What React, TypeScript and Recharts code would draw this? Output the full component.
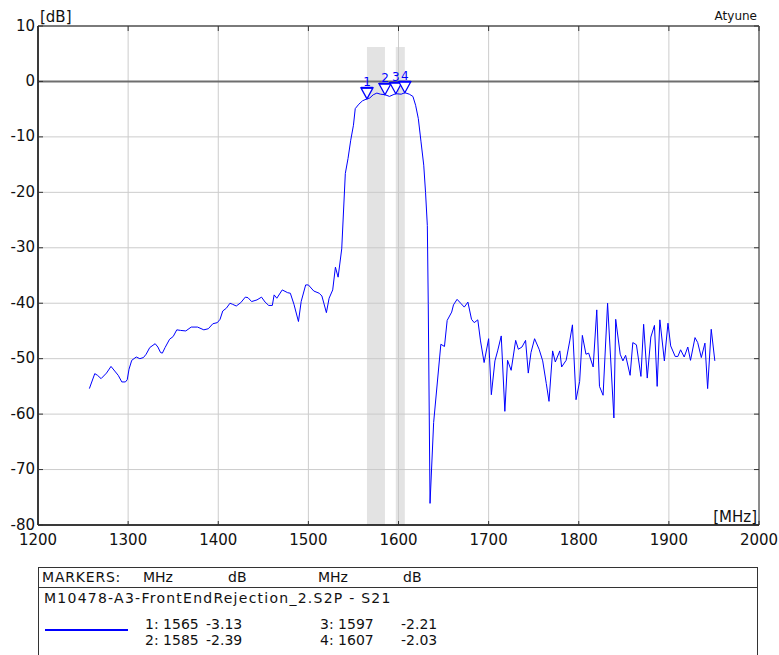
import React from 'react';
import {
  ComposedChart,
  Line,
  Scatter,
  XAxis,
  YAxis,
  CartesianGrid,
  ReferenceArea,
  ReferenceLine,
} from 'recharts';

const freqMHz = [
  1257, 1263, 1266, 1270, 1276, 1281, 1286, 1289, 1293, 1297, 1299, 1301, 1304, 1309, 1313, 1317,
  1320, 1324, 1330, 1333, 1336, 1338, 1341, 1346, 1350, 1354, 1358, 1364, 1370, 1377, 1384, 1389,
  1394, 1399, 1402, 1405, 1409, 1413, 1416, 1420, 1425, 1430, 1433, 1437, 1443, 1448, 1452, 1456,
  1460, 1462, 1465, 1471, 1477, 1480, 1484, 1489, 1492, 1497, 1500, 1506, 1512, 1515, 1520, 1523,
  1527, 1530, 1533, 1537, 1541, 1544, 1547, 1550, 1552, 1556, 1560, 1565, 1568, 1572, 1576, 1580,
  1585, 1590, 1594, 1597, 1603, 1607, 1612, 1616, 1619, 1622, 1625, 1628, 1630, 1632, 1633, 1635,
  1639, 1647, 1651, 1654, 1659, 1661, 1665, 1669, 1673, 1677, 1681, 1684, 1688, 1691, 1695, 1700,
  1703, 1707, 1710, 1714, 1718, 1721, 1725, 1730, 1733, 1737, 1741, 1744, 1747, 1751, 1756, 1760,
  1764, 1767, 1771, 1774, 1779, 1781, 1786, 1790, 1793, 1797, 1801, 1804, 1808, 1811, 1816, 1820,
  1823, 1827, 1832, 1839, 1841, 1846, 1849, 1852, 1857, 1860, 1864, 1869, 1872, 1876, 1880, 1884,
  1887, 1890, 1895, 1899, 1902, 1907, 1910, 1913, 1917, 1921, 1924, 1929, 1932, 1936, 1940, 1943,
  1947, 1951,
];

const s21dB = [
  -55.4, -52.7, -53.0, -53.6, -52.6, -51.4, -52.4, -53.0, -54.2, -54.2, -53.8, -51.9, -50.3, -49.7, -50.0, -49.8,
  -49.2, -48.0, -47.3, -47.9, -48.9, -49.0, -48.0, -46.5, -46.0, -44.8, -44.9, -45.0, -44.3, -44.3, -44.8, -44.6,
  -43.7, -43.5, -42.9, -41.4, -40.9, -40.0, -40.2, -40.5, -39.9, -38.9, -39.0, -39.7, -39.4, -38.9, -39.8, -40.4,
  -40.4, -38.5, -39.1, -37.6, -38.1, -38.2, -40.2, -43.3, -39.7, -36.7, -36.7, -37.8, -38.2, -38.7, -41.7, -39.1,
  -37.6, -33.5, -35.3, -30.2, -16.6, -13.9, -10.6, -7.9, -4.9, -4.1, -3.5, -3.13, -3.0, -2.4, -2.1, -2.3,
  -2.39, -2.7, -2.4, -2.21, -2.3, -2.03, -2.3, -2.7, -4.3, -6.7, -10.9, -15.1, -20.0, -26.0, -40.0, -76.1,
  -61.5, -47.4, -47.8, -43.1, -41.6, -40.3, -39.3, -40.0, -40.7, -39.8, -42.9, -43.5, -43.0, -46.8, -50.7, -46.4,
  -56.5, -50.4, -48.6, -45.9, -59.5, -50.3, -52.1, -46.7, -48.3, -47.9, -46.7, -52.6, -48.9, -46.4, -48.3, -50.4,
  -54.5, -57.7, -48.6, -50.6, -48.6, -51.5, -50.3, -46.8, -43.9, -57.4, -54.1, -45.8, -49.2, -49.0, -51.5, -41.2,
  -55.0, -56.6, -40.0, -60.7, -42.9, -49.2, -50.4, -49.4, -53.0, -47.1, -47.5, -53.2, -43.8, -53.5, -46.1, -44.0,
  -55.0, -43.0, -50.4, -43.6, -47.7, -49.6, -49.6, -48.4, -49.7, -47.9, -50.3, -46.2, -47.1, -49.8, -47.2, -55.4,
  -44.7, -50.4,
];

const markerLabels = ['1', '2', '3', '4'];
const markerFreq = [1565, 1585, 1597, 1607];
const markerDb = [-3.13, -2.39, -2.21, -2.03];

const bandStart = [1565, 1597];
const bandEnd = [1585, 1607];
const bandTop = 6.2;

const xTicks = [1200, 1300, 1400, 1500, 1600, 1700, 1800, 1900, 2000];
const yTicks = [10, 0, -10, -20, -30, -40, -50, -60, -70, -80];

const traceName = 'M10478-A3-FrontEndRejection_2.S2P - S21';

const traceData = freqMHz.map((f, i) => ({ f, db: s21dB[i] }));
const markerData = markerFreq.map((f, i) => ({ f, db: markerDb[i], label: markerLabels[i] }));

const W = 779;
const H = 560;
const PLOT_LEFT = 38;
const PLOT_RIGHT = 759;
const PLOT_TOP = 26;
const PLOT_BOTTOM = 525;
const FONT = '"DejaVu Sans", Verdana, sans-serif';
const BLUE = '#0000ff';

const XTick = (props: any) => {
  const { x, payload } = props;
  return (
    <g>
      <line x1={x} x2={x} y1={PLOT_TOP} y2={PLOT_TOP + 5} stroke="#333" strokeWidth={1} />
      <line x1={x} x2={x} y1={PLOT_BOTTOM} y2={PLOT_BOTTOM - 4} stroke="#333" strokeWidth={1} />
      <text x={x} y={PLOT_BOTTOM + 20} textAnchor="middle" fontFamily={FONT} fontSize={15} fill="#111">
        {payload.value}
      </text>
    </g>
  );
};

const YTick = (props: any) => {
  const { y, payload } = props;
  return (
    <g>
      <line x1={PLOT_LEFT} x2={PLOT_LEFT + 5} y1={y} y2={y} stroke="#333" strokeWidth={1} />
      <line x1={PLOT_RIGHT} x2={PLOT_RIGHT - 5} y1={y} y2={y} stroke="#333" strokeWidth={1} />
      <text x={PLOT_LEFT - 3} y={y + 4.5} textAnchor="end" fontFamily={FONT} fontSize={15} fill="#111">
        {payload.value}
      </text>
    </g>
  );
};

const MarkerShape = (props: any) => {
  const { cx, cy, payload } = props;
  if (cx == null || cy == null) return null;
  const hw = 6;
  const h = 11;
  return (
    <g>
      <polygon
        points={`${cx - hw},${cy - h} ${cx + hw},${cy - h} ${cx},${cy}`}
        fill="#ffffff"
        stroke={BLUE}
        strokeWidth={1.3}
      />
      <line x1={cx - hw} x2={cx + hw} y1={cy - h} y2={cy - h} stroke={BLUE} strokeWidth={2} />
      <text x={cx} y={cy - h - 1.5} textAnchor="middle" fontFamily={FONT} fontSize={12} fill={BLUE}>
        {payload.label}
      </text>
    </g>
  );
};

const Legend = () => {
  const colA = 145;
  const colAv = 206;
  const colB = 320;
  const colBv = 401;
  const row1 = 629;
  const row2 = 645;
  const txt = { fontFamily: FONT, fontSize: 14, fill: '#111' } as const;
  return (
    <svg
      width={W}
      height={655}
      style={{ position: 'absolute', left: 0, top: 0, pointerEvents: 'none' }}
    >
      <rect x={38.5} y={567.5} width={719} height={120} fill="#ffffff" stroke="#333" strokeWidth={1} />
      <line x1={38.5} x2={757.5} y1={587.5} y2={587.5} stroke="#333" strokeWidth={1} />
      <text x={42} y={582} {...txt} letterSpacing={0.8}>MARKERS:</text>
      <text x={143} y={582} {...txt}>MHz</text>
      <text x={228} y={582} {...txt}>dB</text>
      <text x={318} y={582} {...txt}>MHz</text>
      <text x={403} y={582} {...txt}>dB</text>
      <text x={44} y={603} {...txt} letterSpacing={1.25}>{traceName}</text>
      <line x1={45} x2={128} y1={630} y2={630} stroke={BLUE} strokeWidth={2} />
      <text x={colA} y={row1} {...txt}>{`${markerLabels[0]}: ${markerFreq[0]}`}</text>
      <text x={colAv} y={row1} {...txt}>{markerDb[0].toFixed(2)}</text>
      <text x={colB} y={row1} {...txt}>{`${markerLabels[2]}: ${markerFreq[2]}`}</text>
      <text x={colBv} y={row1} {...txt}>{markerDb[2].toFixed(2)}</text>
      <text x={colA} y={row2} {...txt}>{`${markerLabels[1]}: ${markerFreq[1]}`}</text>
      <text x={colAv} y={row2} {...txt}>{markerDb[1].toFixed(2)}</text>
      <text x={colB} y={row2} {...txt}>{`${markerLabels[3]}: ${markerFreq[3]}`}</text>
      <text x={colBv} y={row2} {...txt}>{markerDb[3].toFixed(2)}</text>
    </svg>
  );
};

export default function App() {
  return (
    <div
      style={{
        position: 'absolute',
        left: 0,
        top: 0,
        width: W,
        height: 655,
        overflow: 'hidden',
        background: '#ffffff',
      }}
    >
      <ComposedChart
        width={W}
        height={H}
        margin={{ top: PLOT_TOP, right: W - PLOT_RIGHT, bottom: 0, left: 0 }}
      >
        {bandStart.map((b, i) => (
          <ReferenceArea
            key={`band-${i}`}
            x1={b}
            x2={bandEnd[i]}
            y1={-80}
            y2={bandTop}
            fill="#c8c8c8"
            fillOpacity={0.5}
            stroke="none"
            ifOverflow="visible"
          />
        ))}
        <CartesianGrid stroke="#cccccc" strokeWidth={1} />
        <XAxis
          dataKey="f"
          type="number"
          domain={[1200, 2000]}
          ticks={xTicks}
          interval={0}
          allowDataOverflow
          height={H - PLOT_BOTTOM}
          tickSize={0}
          tickLine={false}
          tick={<XTick />}
          axisLine={{ stroke: '#000', strokeWidth: 1.5 }}
        />
        <YAxis
          type="number"
          domain={[-80, 10]}
          ticks={yTicks}
          interval={0}
          allowDataOverflow
          width={PLOT_LEFT}
          tickSize={0}
          tickLine={false}
          tick={<YTick />}
          axisLine={{ stroke: '#000', strokeWidth: 1.5 }}
        />
        <ReferenceLine x={2000} stroke="#333" strokeWidth={1} />
        <ReferenceLine y={10} stroke="#7a7a7a" strokeWidth={2} />
        <ReferenceLine y={0} stroke="#6e6e6e" strokeWidth={2} />
        <Line
          data={traceData}
          dataKey="db"
          type="linear"
          stroke={BLUE}
          strokeWidth={1}
          dot={false}
          activeDot={false}
          isAnimationActive={false}
        />
        <Scatter
          data={markerData}
          dataKey="db"
          shape={<MarkerShape />}
          isAnimationActive={false}
        />
        <text x={PLOT_LEFT + 2} y={22} fontFamily={FONT} fontSize={15} fill="#111">
          [dB]
        </text>
        <text x={PLOT_RIGHT - 2} y={20} textAnchor="end" fontFamily={FONT} fontSize={12} fill="#111">
          Atyune
        </text>
        <text x={PLOT_RIGHT - 2} y={PLOT_BOTTOM - 3} textAnchor="end" fontFamily={FONT} fontSize={15} fill="#111">
          [MHz]
        </text>
      </ComposedChart>
      <Legend />
    </div>
  );
}
